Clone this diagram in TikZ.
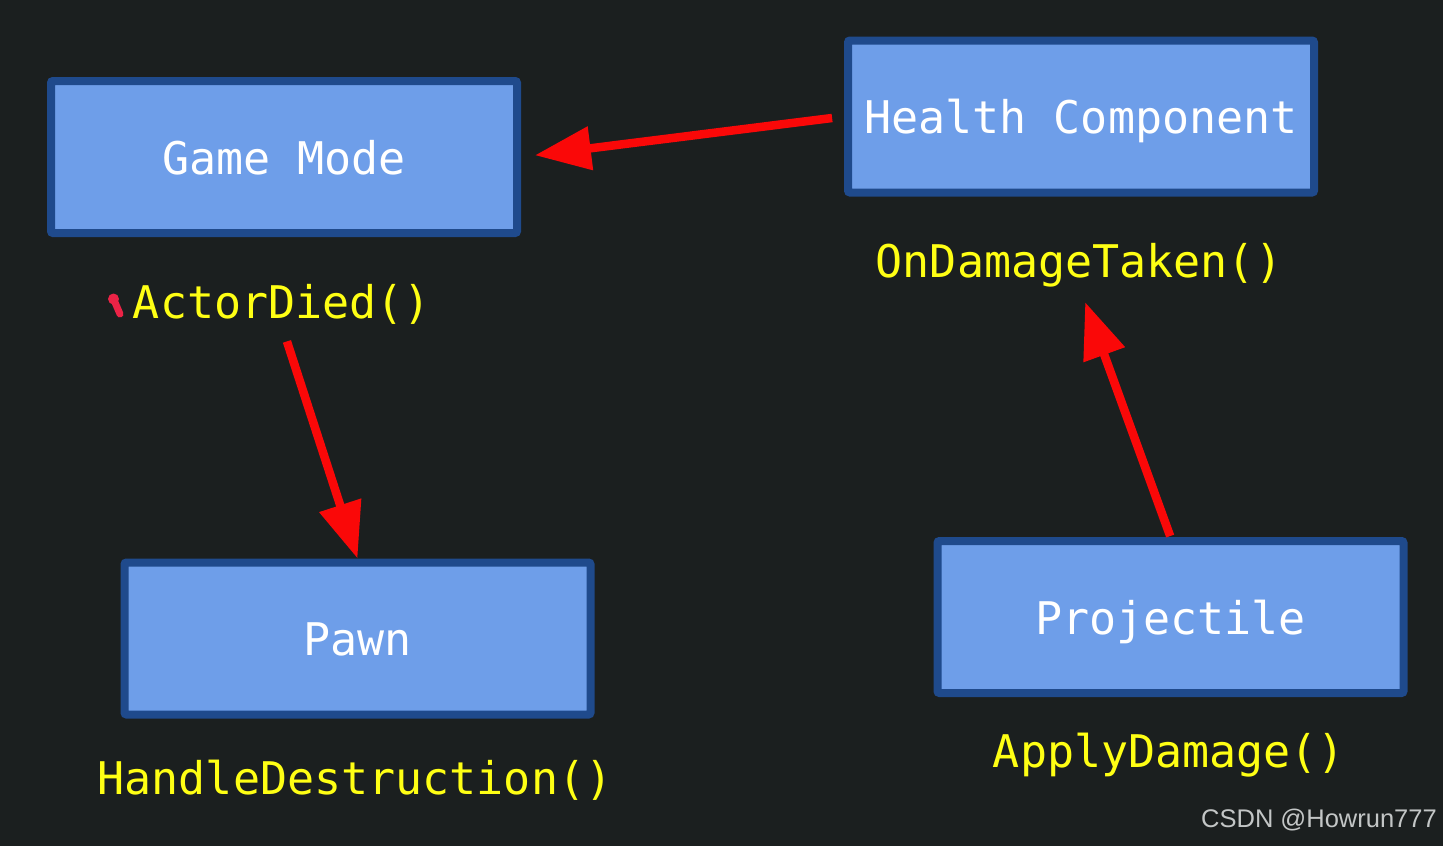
\documentclass[tikz,border=0pt]{standalone}
\usepackage{fontspec}
\newfontfamily\dmono{DejaVu Sans Mono}
\newfontfamily\lsans{Liberation Sans}
\usetikzlibrary{arrows.meta}
\definecolor{bgcol}{RGB}{27,31,31}
\definecolor{boxfill}{RGB}{110,158,233}
\definecolor{boxline}{RGB}{31,74,140}
\definecolor{labyellow}{RGB}{255,255,20}
\definecolor{arrred}{RGB}{250,8,8}
\definecolor{blobred}{RGB}{235,35,70}
\definecolor{wmgray}{RGB}{195,198,198}
\begin{document}
\begin{tikzpicture}[x=1pt,y=-1pt,
  classbox/.style={draw=boxline, fill=boxfill, line width=8pt, rounded corners=2pt,
    minimum width=466pt, minimum height=152pt, inner sep=0pt, outer sep=4pt,
    text=white, font=\dmono\fontsize{45}{54}\selectfont, text height=34pt, text depth=0pt},
  funclabel/.style={text=labyellow, font=\dmono\fontsize{45}{54}\selectfont,
    inner sep=0pt, anchor=base, text height=34pt, text depth=8pt},
  callarrow/.style={draw=arrred, line width=8.5pt, -{Triangle[length=56pt,width=42pt]}}]
\useasboundingbox (0,0) rectangle (1443,846);
\fill[bgcol] (0,0) rectangle (1443,846);

% boxes
\node[classbox] (gm)   at (284,157)    {Game Mode};
\node[classbox] (hc)   at (1081,116.5) {Health Component};
\node[classbox] (pawn) at (357.5,638.5){Pawn};
\node[classbox] (proj) at (1170.5,617) {Projectile};

% function labels
\node[funclabel] (ad)  at (282,318)  {ActorDied()};
\node[funclabel] (odt) at (1079,277) {OnDamageTaken()};
\node[funclabel] (hd)  at (355,794)  {HandleDestruction()};
\node[funclabel] (apd) at (1169,767) {ApplyDamage()};

% arrows
\draw[callarrow, shorten <=12pt, shorten >=14pt] (hc.west) -- (gm.east);
\draw[callarrow, shorten <=16pt] (ad.south) -- (pawn.north);
\draw[callarrow, shorten <=1pt, shorten >=18pt] (proj.north) -- (odt.south);

% small red mark
\fill[blobred] (113.5,299) circle[radius=5.5pt];
\draw[blobred, line width=7pt, line cap=round] (114,300) -- (120,314);

% watermark
\node[text=wmgray, font=\lsans\fontsize{25.5}{30}\selectfont, inner sep=0pt, anchor=base east] (wm) at (1437,827) {CSDN @Howrun777};
\end{tikzpicture}
\end{document}
